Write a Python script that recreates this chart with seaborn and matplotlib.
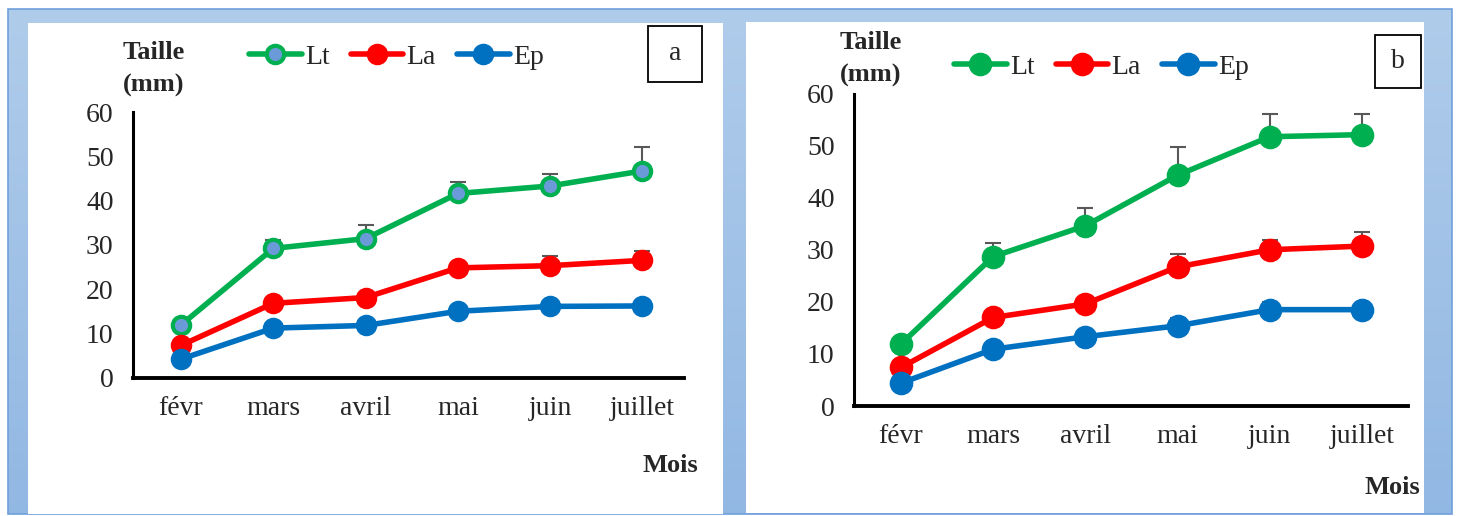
import numpy as np
import pandas as pd
import seaborn as sns
import matplotlib.pyplot as plt
from matplotlib.lines import Line2D
from matplotlib.patches import Rectangle

# data
months = ["févr", "mars", "avril", "mai", "juin", "juillet"]

lt_a = [11.9, 29.2, 31.4, 41.6, 43.3, 46.7]
lt_a_err = [0.5, 1.9, 3.0, 2.6, 2.6, 5.4]
la_a = [7.3, 16.8, 18.1, 24.8, 25.3, 26.5]
la_a_err = [0.5, 0.8, 0.8, 0.8, 2.2, 2.0]
ep_a = [4.2, 11.2, 11.8, 15.0, 16.1, 16.2]
ep_a_err = [0.5, 0.5, 0.5, 0.5, 0.5, 0.5]

lt_b = [11.9, 28.7, 34.6, 44.3, 51.7, 52.1]
lt_b_err = [0.5, 2.6, 3.4, 5.4, 4.4, 4.0]
la_b = [7.4, 17.0, 19.6, 26.7, 30.0, 30.7]
la_b_err = [0.5, 1.0, 0.8, 2.5, 1.8, 2.7]
ep_b = [4.4, 10.9, 13.3, 15.4, 18.5, 18.5]
ep_b_err = [0.3, 0.5, 0.5, 1.5, 1.5, 0.5]

series = ["Lt", "La", "Ep"]
colors = {"Lt": "#00b050", "La": "#ff0000", "Ep": "#0070c0"}

sns.set_style("white")
plt.rcParams["font.family"] = ["Liberation Serif", "DejaVu Serif"]

W, H = 1458, 516
fig = plt.figure(figsize=(W / 100, H / 100), dpi=100)

# background frame (pixel coords)
bg = fig.add_axes([0, 0, 1, 1], zorder=-5)
bg.set_xlim(0, W)
bg.set_ylim(H, 0)
bg.axis("off")
grad = np.linspace(0, 1, 256).reshape(-1, 1)
top_c = np.array([0.69, 0.80, 0.92])
bot_c = np.array([0.57, 0.72, 0.89])
img = top_c + (bot_c - top_c) * grad[..., None]
bg.imshow(img, extent=(8, 1452, 514, 9), aspect="auto")
bg.add_patch(Rectangle((8, 9), 1444, 505, fill=False, ec="#6f9fdb", lw=1.2))
bg.add_patch(Rectangle((28, 23), 695, 491, fc="white", ec="none"))
bg.add_patch(Rectangle((746, 22), 678, 491, fc="white", ec="none"))


def px_axes(left, top, right, bottom):
    return fig.add_axes([left / W, 1 - bottom / H, (right - left) / W, (bottom - top) / H])


def draw_panel(ax, vals, errs, msize, lt_face, xlim):
    df = pd.DataFrame({
        "Mois": months * 3,
        "Taille": vals["Lt"] + vals["La"] + vals["Ep"],
        "serie": np.repeat(series, len(months)),
    })
    for s in series:
        face = lt_face if s == "Lt" else colors[s]
        sns.lineplot(data=df[df["serie"] == s], x="Mois", y="Taille", ax=ax,
                     color=colors[s], lw=4, marker="o", markersize=msize,
                     markerfacecolor=face, markeredgecolor=colors[s],
                     markeredgewidth=3, sort=False, zorder=3)
        y = np.array(vals[s])
        ax.errorbar(np.arange(len(months)), y, yerr=[np.zeros_like(y), errs[s]],
                    fmt="none", ecolor="#595959", elinewidth=1.5, capsize=6,
                    capthick=1.5, zorder=2)
    ax.set_ylim(0, 60)
    ax.set_xlim(*xlim)
    ax.set_yticks(range(0, 61, 10))
    ax.set_xlabel("")
    ax.set_ylabel("")
    ax.patch.set_alpha(0)
    for side in ["top", "right"]:
        ax.spines[side].set_visible(False)
    ax.spines["left"].set_linewidth(2.2)
    ax.spines["bottom"].set_linewidth(2.8)
    ax.spines["left"].set_color("black")
    ax.spines["bottom"].set_color("black")
    ax.tick_params(axis="y", length=0, pad=14, labelsize=20)
    ax.tick_params(axis="x", length=0, pad=13, labelsize=20)


def add_legend(ax, x0, y0, msize, lt_face):
    handles = [Line2D([], [], color=colors[s], lw=4, marker="o", markersize=msize,
                      markerfacecolor=(lt_face if s == "Lt" else colors[s]),
                      markeredgecolor=colors[s], markeredgewidth=3) for s in series]
    fig.legend(handles, series, loc="center left", bbox_to_anchor=(x0 / W, 1 - y0 / H),
               bbox_transform=fig.transFigure, ncol=3, frameon=False, fontsize=20,
               handlelength=1.9, handletextpad=0.12, columnspacing=0.75,
               borderpad=0, borderaxespad=0)


def add_labels(tx, ty, mx, my, box, letter):
    fig.text(tx / W, 1 - ty / H, "Taille\n(mm)", ha="center", va="center",
             fontsize=19, fontweight="bold", linespacing=1.55)
    fig.text(mx / W, 1 - my / H, "Mois", ha="center", va="center",
             fontsize=19, fontweight="bold")
    l, t, r, b = box
    bg.add_patch(Rectangle((l, t), r - l, b - t, fill=False, ec="black", lw=1.3))
    bg.text((l + r) / 2, (t + b) / 2, letter, ha="center", va="center", fontsize=20)


# panel a
ax_a = px_axes(133, 112, 684, 377.7)
draw_panel(ax_a, {"Lt": lt_a, "La": la_a, "Ep": ep_a},
           {"Lt": lt_a_err, "La": la_a_err, "Ep": ep_a_err},
           12.5, "#6a9ad8", (-0.52, 5.45))
add_legend(ax_a, 249, 57, 12.5, "#6a9ad8")
add_labels(154, 69, 670, 465, (648, 26, 702, 82), "a")

# panel b
ax_b = px_axes(854, 93.5, 1408, 406)
draw_panel(ax_b, {"Lt": lt_b, "La": la_b, "Ep": ep_b},
           {"Lt": lt_b_err, "La": la_b_err, "Ep": ep_b_err},
           14, colors["Lt"], (-0.51, 5.5))
add_legend(ax_b, 954, 67, 14, colors["Lt"])
add_labels(871, 59, 1392, 487, (1375, 35, 1421, 88), "b")

fig.savefig("out.png", dpi=100)
